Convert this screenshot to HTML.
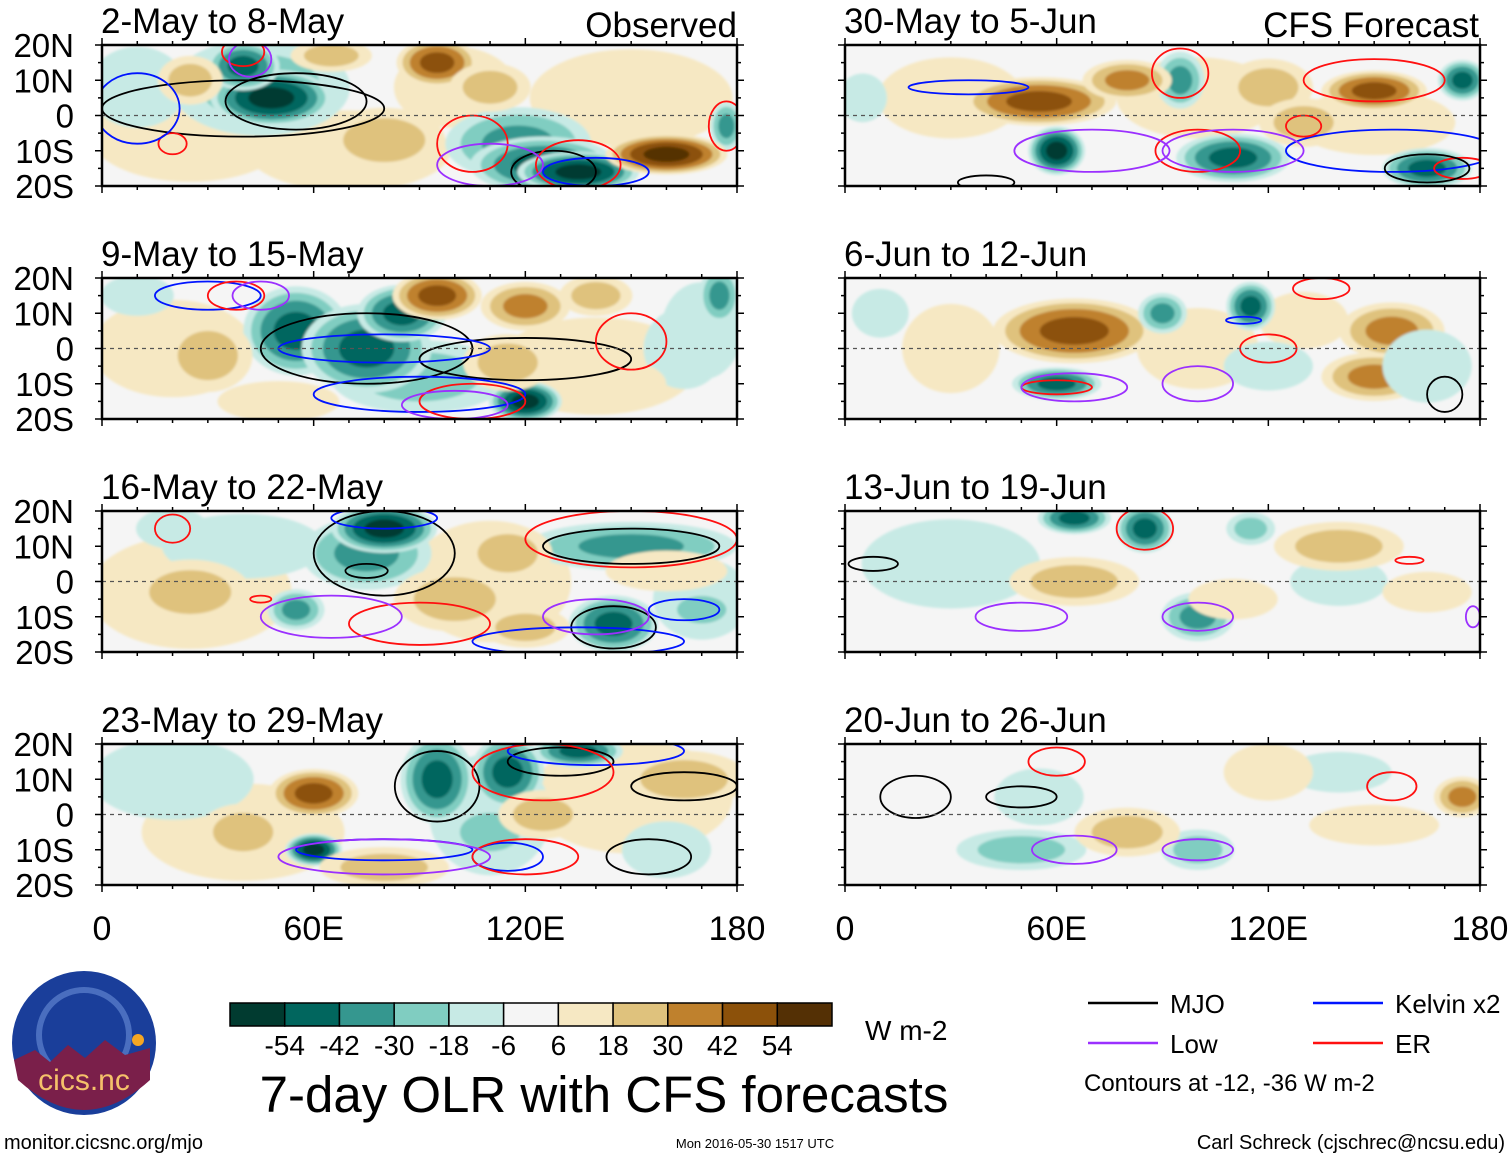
<!DOCTYPE html>
<html><head><meta charset="utf-8">
<style>
html,body{margin:0;padding:0;background:#fff;}
body{width:1510px;height:1158px;overflow:hidden;position:relative;font-family:"Liberation Sans",Arial,sans-serif;}
svg{position:absolute;left:0;top:0;}
</style></head>
<body>
<svg id="chart" width="1510" height="1158" viewBox="0 0 1510 1158" xmlns="http://www.w3.org/2000/svg">
<defs><filter id="soft" x="-10%" y="-10%" width="120%" height="120%"><feGaussianBlur stdDeviation="1.4"/></filter></defs>
</svg>
<script>
// ----- data -----
const levelColors = ["#013b30","#01665e","#35978f","#80cdc1","#c7eae5","#f5f5f5","#f6e8c3","#dfc27d","#bf812d","#8c510a","#543005"];
const levelTicks = ["-54","-42","-30","-18","-6","6","18","30","42","54"];
const panelTitles = ["2-May to 8-May","9-May to 15-May","16-May to 22-May","23-May to 29-May","30-May to 5-Jun","6-Jun to 12-Jun","13-Jun to 19-Jun","20-Jun to 26-Jun"];
const latTicks = [20,10,0,-10,-20];
const latLabels = ["20N","10N","0","10S","20S"];
const lonTicks = [0,60,120,180];
const lonLabels = ["0","60E","120E","180"];
// anomaly blobs: [lon, lat, radiusLon, radiusLat, value]
const anomP1 = [[25,-5,25,12,10],[70,-10,25,10,10],[150,5,25,12,10],[100,8,15,10,10],[10,8,12,10,-10],[45,8,22,12,-20],[48,5,15,7,-54],[40,14,9,6,-42],[118,-8,18,9,-30],[125,-14,18,7,-42],[135,-16,15,5,-54],[177,-3,4,6,-30],[95,15,10,6,42],[160,-11,15,5,54],[80,-7,15,8,20],[25,10,8,6,20],[110,8,10,6,20],[65,17,10,4,20],[150,10,12,6,14]];
const anomP2 = [[20,0,20,12,10],[140,-5,25,12,10],[170,5,10,12,-10],[90,-8,22,9,-20],[55,5,13,11,-42],[75,0,16,11,-42],[85,10,11,7,-42],[120,-15,9,5,-54],[175,15,5,7,-30],[165,0,10,10,-14],[10,15,9,5,-14],[95,15,11,6,42],[120,12,11,6,30],[30,-2,11,9,20],[115,-4,11,7,20],[50,-15,15,5,14],[145,-10,13,6,14],[140,15,9,5,20]];
const anomP3 = [[25,-3,25,14,10],[110,0,20,15,10],[40,10,20,8,-10],[170,-5,12,10,-10],[75,8,16,9,-30],[80,15,13,6,-54],[150,10,26,6,-30],[145,-12,11,7,-42],[55,-8,7,5,-30],[20,15,9,5,-14],[170,-8,9,5,-20],[25,-3,15,8,20],[115,8,11,7,20],[100,-5,15,8,20],[120,-13,11,5,20],[160,3,15,5,14]];
const anomP4 = [[40,-5,25,12,10],[150,5,25,14,10],[20,10,20,10,-10],[110,0,15,15,-10],[110,-5,11,7,-20],[95,10,9,11,-42],[115,12,9,9,-42],[135,18,11,4,-42],[60,-10,7,4,-54],[20,15,11,6,-14],[160,-10,11,7,-14],[60,6,11,6,42],[40,-5,11,7,20],[125,0,11,6,20],[165,10,16,7,20],[80,-15,16,5,20]];
const anomP5 = [[30,5,18,10,14],[100,5,20,10,10],[150,-2,20,8,10],[60,-10,7,6,-54],[110,-12,14,6,-42],[95,10,6,7,-30],[175,10,6,5,-42],[165,-15,11,5,-42],[5,5,6,6,-14],[55,4,19,6,42],[80,10,11,5,30],[150,7,13,5,42],[120,8,11,7,20],[130,-2,11,6,20]];
const anomP6 = [[30,0,12,11,14],[100,0,15,10,10],[65,5,20,8,42],[155,5,13,7,30],[150,-8,13,6,30],[130,8,11,7,14],[90,10,6,5,-30],[115,12,6,6,-42],[60,-10,11,4,-42],[10,10,7,6,-14],[165,-5,11,9,-10],[120,-5,11,6,-14]];
const anomP7 = [[30,5,22,11,-10],[140,0,12,6,-10],[65,18,9,4,-42],[85,15,7,6,-42],[100,-10,9,6,-30],[115,15,6,4,-20],[65,0,16,6,20],[140,10,16,6,20],[110,-5,11,5,14],[165,-3,11,5,14]];
const anomP8 = [[55,5,11,7,-10],[50,-10,16,5,-20],[100,-10,9,5,-20],[140,12,13,5,-14],[80,-5,13,6,20],[175,5,7,5,30],[120,12,11,7,14],[150,-3,16,5,14]];
// contours: [type, lon, lat, radiusLon, radiusLat]
const contP1 = [["mjo",55,4,20,8],["mjo",40,2,40,8],["mjo",128,-16,12,6],["er",40,18,6,4],["er",105,-8,10,8],["er",135,-14,12,7],["er",177,-3,5,7],["er",20,-8,4,3],["low",42,16,6,5],["low",110,-14,15,6],["kelvin",10,2,12,10],["kelvin",140,-16,15,4]];
const contP2 = [["mjo",75,0,30,10],["mjo",120,-3,30,6],["kelvin",30,15,15,4],["kelvin",80,0,30,4],["kelvin",90,-13,30,5],["er",38,15,8,4],["er",105,-15,15,5],["er",150,2,10,8],["low",45,15,8,4],["low",100,-16,15,4]];
const contP3 = [["mjo",80,8,20,12],["mjo",150,10,25,5],["mjo",145,-13,12,6],["mjo",75,3,6,2],["er",20,15,5,4],["er",150,12,30,8],["er",90,-12,20,6],["er",45,-5,3,1],["kelvin",80,18,15,3],["kelvin",135,-17,30,4],["kelvin",165,-8,10,3],["low",65,-10,20,6],["low",140,-10,15,5]];
const contP4 = [["mjo",95,8,12,10],["mjo",130,15,15,4],["mjo",165,8,15,4],["mjo",155,-12,12,5],["kelvin",140,18,25,4],["kelvin",80,-10,25,3],["kelvin",115,-12,10,4],["er",125,12,20,8],["er",120,-12,15,5],["low",80,-12,30,5]];
const contP5 = [["kelvin",35,8,17,2],["kelvin",155,-10,30,6],["er",95,12,8,7],["er",100,-10,12,6],["er",150,10,20,6],["er",130,-3,5,3],["er",175,-15,8,3],["low",70,-10,22,6],["low",110,-10,20,6],["mjo",40,-19,8,2],["mjo",165,-15,12,4]];
const contP6 = [["er",60,-11,10,2],["er",120,0,8,4],["er",135,17,8,3],["low",65,-11,15,4],["low",100,-10,10,5],["kelvin",113,8,5,1],["mjo",170,-13,5,5]];
const contP7 = [["mjo",8,5,7,2],["er",85,15,8,6],["er",160,6,4,1],["low",50,-10,13,4],["low",100,-10,10,4],["low",178,-10,2,3]];
const contP8 = [["mjo",20,5,10,6],["mjo",50,5,10,3],["er",60,15,8,4],["er",155,8,7,4],["low",65,-10,12,4],["low",100,-10,10,3]];

const anoms=[anomP1,anomP2,anomP3,anomP4,anomP5,anomP6,anomP7,anomP8];
const conts=[contP1,contP2,contP3,contP4,contP5,contP6,contP7,contP8];
const contColor={mjo:"#000",kelvin:"#0014ff",low:"#9b30ff",er:"#ff1010"};

const svg=document.getElementById('chart');
const NS="http://www.w3.org/2000/svg";
function mk(tag,attrs,parent){const e=document.createElementNS(NS,tag);for(const k in attrs)e.setAttribute(k,attrs[k]);(parent||svg).appendChild(e);return e;}
function txt(s,x,y,size,anchor,parent){const t=mk('text',{x:x,y:y,'font-size':size,'text-anchor':anchor||'start',fill:'#000','font-family':'Liberation Sans, Arial, sans-serif'},parent);t.textContent=s;return t;}

const PW=635,PH=141;
const colX=[102,845], rowY=[45,278,511,744];
function colorFor(v){const th=[-54,-42,-30,-18,-6,6,18,30,42,54];let i=0;while(i<th.length&&v>=th[i])i++;return levelColors[i];}

for(let p=0;p<8;p++){
  const x0=colX[p<4?0:1], y0=rowY[p%4];
  const xs=lon=>x0+lon/180*PW, ys=lat=>y0+(20-lat)/40*PH;
  const g=mk('g',{});
  
  
  const cp=mk('clipPath',{id:'clip'+p},g);
  mk('rect',{x:x0,y:y0,width:PW,height:PH},cp);
  mk('rect',{x:x0,y:y0,width:PW,height:PH,fill:'#f5f5f5'},g);
  const fg=mk('g',{'clip-path':'url(#clip'+p+')',filter:'url(#soft)'},g);
  for(const b of anoms[p]){
    const [lon,lat,rl,rt,v]=b; const m=Math.abs(v), s=Math.sign(v);
    for(let t=6;t<=m;t+=12){
      const sc=Math.sqrt((m-t+8)/(m+2));
      const e=mk('ellipse',{cx:xs(lon),cy:ys(lat),rx:rl*1.15/180*PW*sc,ry:rt*1.15/40*PH*sc,fill:colorFor(s*(t+1))},fg);
      
      
    }
  }
  const cg=mk('g',{'clip-path':'url(#clip'+p+')'},g);
  for(const c of conts[p]){
    const e=mk('ellipse',{cx:xs(c[1]),cy:ys(c[2]),rx:c[3]/180*PW,ry:c[4]/40*PH,fill:'none',stroke:contColor[c[0]],'stroke-width':1.8},cg);
    
    
  }
  mk('line',{x1:x0,x2:x0+PW,y1:ys(0),y2:ys(0),stroke:'#555','stroke-width':1.2,'stroke-dasharray':'4,4'},g);
  mk('rect',{x:x0,y:y0,width:PW,height:PH,fill:'none',stroke:'#000','stroke-width':2.5},g);
  for(let lon=0;lon<=180;lon+=10){const maj=lon%60==0;const L=maj?7:4;
    mk('line',{x1:xs(lon),x2:xs(lon),y1:y0,y2:y0-L,stroke:'#000','stroke-width':1.5},g);
    mk('line',{x1:xs(lon),x2:xs(lon),y1:y0+PH,y2:y0+PH+L,stroke:'#000','stroke-width':1.5},g);}
  for(let lat=-20;lat<=20;lat+=5){const L=lat%10==0?7:4;
    mk('line',{x1:x0,x2:x0-L,y1:ys(lat),y2:ys(lat),stroke:'#000','stroke-width':1.5},g);
    mk('line',{x1:x0+PW,x2:x0+PW+L,y1:ys(lat),y2:ys(lat),stroke:'#000','stroke-width':1.5},g);}
  const tt=txt(panelTitles[p],x0-1,y0-12,35,'start',g);
  
  
  if(p<4){latTicks.forEach((lat,i)=>{const t=txt(latLabels[i],74,ys(lat)+12,33,'end',g);
    
    });}
  if(p%4==3){lonTicks.forEach((lon,i)=>{const t=txt(lonLabels[i],xs(lon),940,34,'middle',g);
    
    });}
}
const o=txt("Observed",737,37,35,'end');
const f=txt("CFS Forecast",1479,37,35,'end');

// colorbar
const cb=mk('g',{});


const cbX=230,cbW=602,cbY=1003,cbH=23,bw=cbW/levelColors.length;
levelColors.forEach((c,i)=>{const r=mk('rect',{x:cbX+i*bw,y:cbY,width:bw,height:cbH,fill:c,stroke:'#000','stroke-width':1.5},cb);
  
  });
levelTicks.forEach((s,i)=>{const t=txt(s,cbX+(i+1)*bw,1055,28,'middle',cb);
  
  });
const u=txt("W m-2",865,1040,28,'start');
const mt=txt("7-day OLR with CFS forecasts",604,1112,51,'middle');

// legend
const lg=mk('g',{});


[["MJO","mjo",1088,1003],["Kelvin x2","kelvin",1313,1003],["Low","low",1088,1043],["ER","er",1313,1043]].forEach(a=>{
  const l=mk('line',{x1:a[2],x2:a[2]+70,y1:a[3],y2:a[3],stroke:contColor[a[1]],'stroke-width':2.5},lg);
  
  
  const t=txt(a[0],a[2]+82,a[3]+10,26,'start',lg);
  
  
});
const ct=txt("Contours at -12, -36 W m-2",1084,1091,24,'start');

// logo
const lo=mk('g',{});


mk('circle',{cx:84,cy:1043,r:72,fill:'#1a3e9a'},lo);
mk('circle',{cx:84,cy:1035,r:45,fill:'none',stroke:'#6a8fd8','stroke-width':6,opacity:0.6},lo);
mk('path',{d:'M14,1060 L35,1050 L50,1062 L68,1045 L85,1058 L105,1040 L125,1055 L150,1048 L150,1080 Q84,1140 18,1080 Z',fill:'#7a1f4a'},lo);
mk('circle',{cx:138,cy:1040,r:6,fill:'#f5a623'},lo);
const lt=txt("cics.nc",84,1090,30,'middle',lo);lt.setAttribute('fill','#f5c16a');

const a1=txt("monitor.cicsnc.org/mjo",4,1149,20,'start');
const a2=txt("Mon 2016-05-30 1517 UTC",755,1148,13,'middle');
const a3=txt("Carl Schreck (cjschrec@ncsu.edu)",1505,1149,20,'end');
</script>
</body></html>
